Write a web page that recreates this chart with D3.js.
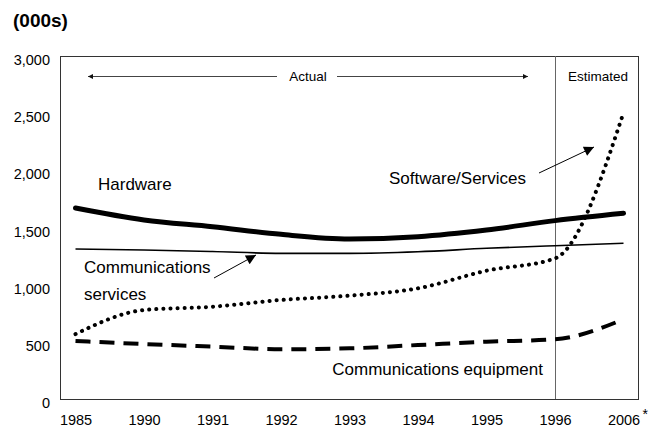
<!DOCTYPE html>
<html>
<head>
<meta charset="utf-8">
<script src="https://cdn.jsdelivr.net/npm/d3@7/dist/d3.min.js"></script>
<style>
  html, body { margin: 0; padding: 0; background: #fff; }
  svg { display: block; font-family: "Liberation Sans", Arial, sans-serif; }
</style>
</head>
<body>
<svg id="chart" width="658" height="429"></svg>
<script>
// ---- data ----
const years = ["1985", "1990", "1991", "1992", "1993", "1994", "1995", "1996", "2006"];
const hardware = [1670, 1566, 1507, 1440, 1400, 1420, 1478, 1560, 1624];
const commServices = [1312, 1303, 1290, 1274, 1274, 1288, 1318, 1341, 1362];
const softwareServices = [568, 778, 807, 866, 904, 968, 1122, 1230, 2504];
const commEquipment = [507, 481, 458, 435, 443, 472, 501, 522, 697];
const yTicks = [0, 500, 1000, 1500, 2000, 2500, 3000];

const svg = d3.select("#chart");
const box = { left: 60, right: 638, top: 56, bottom: 399 };

const x = d3.scalePoint().domain(years).range([75.5, 623.5]);
const y = d3.scaleLinear().domain([0, 3000]).range([box.bottom, box.top]);

// title
svg.append("text").attr("x", 13).attr("y", 27)
  .attr("font-size", 19).attr("font-weight", "bold").text("(000s)");

// plot frame
svg.append("rect")
  .attr("x", box.left + 0.5).attr("y", box.top + 0.5)
  .attr("width", box.right - box.left).attr("height", box.bottom - box.top)
  .attr("fill", "none").attr("stroke", "#333").attr("stroke-width", 1);

// 1996 separator
svg.append("line")
  .attr("x1", Math.round(x("1996")) + 0.5).attr("x2", Math.round(x("1996")) + 0.5)
  .attr("y1", box.top).attr("y2", box.bottom)
  .attr("stroke", "#666").attr("stroke-width", 1);

// axes
const yAxis = svg.append("g").attr("transform", `translate(${box.left},0)`)
  .call(d3.axisLeft(y).tickValues(yTicks).tickSize(0).tickPadding(10).tickFormat(d3.format(",")));
yAxis.select(".domain").remove();
yAxis.selectAll("text").attr("font-size", 14.5).attr("font-family", "Liberation Sans, Arial, sans-serif")
  .attr("fill", "#000").attr("y", 4);

const xAxis = svg.append("g").attr("transform", `translate(0,${box.bottom})`)
  .call(d3.axisBottom(x).tickSize(0).tickPadding(16));
xAxis.select(".domain").remove();
xAxis.selectAll("text").attr("font-size", 14.5).attr("font-family", "Liberation Sans, Arial, sans-serif")
  .attr("fill", "#000");
svg.append("text").attr("x", x("2006") + 19).attr("y", 419)
  .attr("font-size", 14).text("*");

// arrows markers
const defs = svg.append("defs");
defs.append("marker").attr("id", "bigHead").attr("viewBox", "0 0 10 10")
  .attr("refX", 10).attr("refY", 5).attr("markerUnits", "userSpaceOnUse")
  .attr("markerWidth", 15).attr("markerHeight", 10).attr("orient", "auto")
  .append("path").attr("d", "M0,0 L10,5 L0,10 Z").attr("fill", "#000");
defs.append("marker").attr("id", "smallHead").attr("viewBox", "0 0 10 10")
  .attr("refX", 10).attr("refY", 5).attr("markerUnits", "userSpaceOnUse")
  .attr("markerWidth", 9).attr("markerHeight", 5).attr("orient", "auto")
  .append("path").attr("d", "M0,0 L10,5 L0,10 Z").attr("fill", "#111");

// lines
const line = d3.line().x((d, i) => x(years[i])).y(d => y(d)).curve(d3.curveMonotoneX);
const series = [
  { values: commServices, width: 1.6, dash: null, cap: "butt" },
  { values: commEquipment, width: 4, dash: "15,9", cap: "butt" },
  { values: softwareServices, width: 4, dash: "0.1,7", cap: "round" },
  { values: hardware, width: 5, dash: null, cap: "round" }
];
series.forEach(s => {
  svg.append("path").attr("d", line(s.values)).attr("fill", "none")
    .attr("stroke", "#000").attr("stroke-width", s.width)
    .attr("stroke-linecap", s.cap).attr("stroke-linejoin", "round")
    .attr("stroke-dasharray", s.dash);
});

// Actual / Estimated header
const hdrY = 76.5;
svg.append("line").attr("x1", 277).attr("x2", 88).attr("y1", hdrY).attr("y2", hdrY)
  .attr("stroke", "#444").attr("stroke-width", 1).attr("marker-end", "url(#smallHead)");
svg.append("line").attr("x1", 337).attr("x2", 528).attr("y1", hdrY).attr("y2", hdrY)
  .attr("stroke", "#444").attr("stroke-width", 1).attr("marker-end", "url(#smallHead)");
svg.append("text").attr("x", 308).attr("y", 81).attr("text-anchor", "middle")
  .attr("font-size", 13.5).text("Actual");
svg.append("text").attr("x", 598).attr("y", 81).attr("text-anchor", "middle")
  .attr("font-size", 13.5).text("Estimated");

// annotations
const ann = svg.append("g").attr("font-size", 17);
ann.append("text").attr("x", 98).attr("y", 190).text("Hardware");
ann.append("text").attr("x", 84).attr("y", 273).text("Communications");
ann.append("text").attr("x", 84).attr("y", 300).text("services");
ann.append("text").attr("x", 389).attr("y", 184).text("Software/Services");
ann.append("text").attr("x", 543).attr("y", 375).attr("text-anchor", "end").text("Communications equipment");

svg.append("line").attr("x1", 214).attr("y1", 278).attr("x2", 256).attr("y2", 255)
  .attr("stroke", "#000").attr("stroke-width", 1).attr("marker-end", "url(#bigHead)");
svg.append("line").attr("x1", 539).attr("y1", 173).attr("x2", 594).attr("y2", 147)
  .attr("stroke", "#000").attr("stroke-width", 1).attr("marker-end", "url(#bigHead)");
</script>
</body>
</html>
